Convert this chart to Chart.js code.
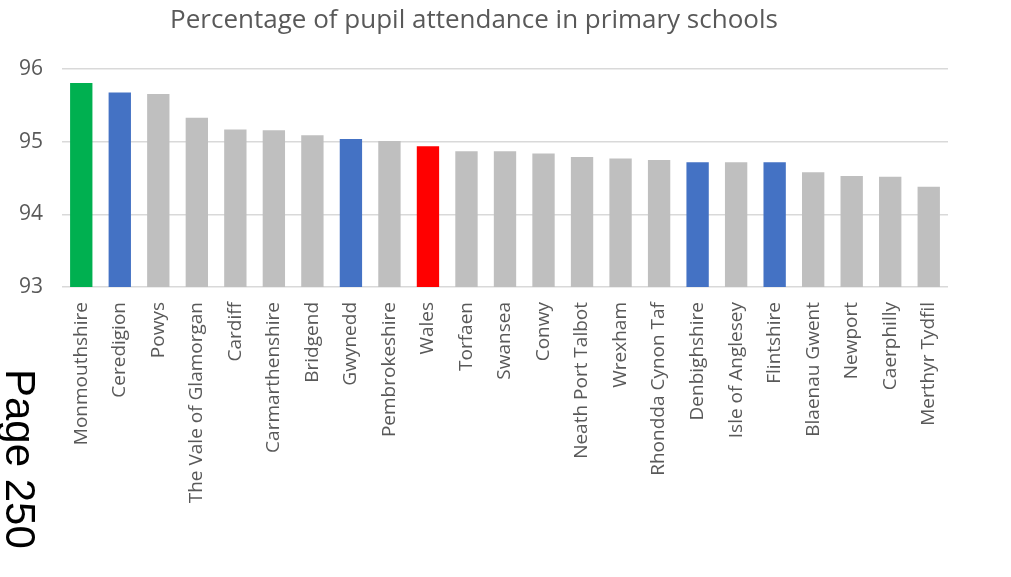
<!DOCTYPE html>
<html>
<head>
<meta charset="utf-8">
<script src="https://cdn.jsdelivr.net/npm/chart.js@4/dist/chart.umd.min.js"></script>
<style>
  html, body { margin: 0; padding: 0; background: #ffffff; overflow: hidden; }
  #wrap { position: relative; width: 1011px; height: 577px; }
  #page { position: absolute; left: 41px; top: 369px; transform-origin: top left; transform: rotate(90deg);
          font-family: "Liberation Sans", Arial, sans-serif; font-size: 42px; line-height: 42px; color: #000; white-space: nowrap; }
</style>
</head>
<body>
<div id="wrap">
  <canvas id="c" width="1011" height="577"></canvas>
  <div id="page">Page 250</div>
</div>
<script>
const categories = ["Monmouthshire","Ceredigion","Powys","The Vale of Glamorgan","Cardiff","Carmarthenshire","Bridgend","Gwynedd","Pembrokeshire","Wales","Torfaen","Swansea","Conwy","Neath Port Talbot","Wrexham","Rhondda Cynon Taf","Denbighshire","Isle of Anglesey","Flintshire","Blaenau Gwent","Newport","Caerphilly","Merthyr Tydfil"];
const attendance = [95.81,95.68,95.66,95.33,95.17,95.16,95.09,95.04,95.01,94.94,94.87,94.87,94.84,94.79,94.77,94.75,94.72,94.72,94.72,94.58,94.53,94.52,94.38];
const barColours = ["#00B050","#4472C4","#BFBFBF","#BFBFBF","#BFBFBF","#BFBFBF","#BFBFBF","#4472C4","#BFBFBF","#FF0000","#BFBFBF","#BFBFBF","#BFBFBF","#BFBFBF","#BFBFBF","#BFBFBF","#4472C4","#BFBFBF","#4472C4","#BFBFBF","#BFBFBF","#BFBFBF","#BFBFBF"];
const yTicks = [93, 94, 95, 96];
const title = "Percentage of pupil attendance in primary schools";

new Chart(document.getElementById('c'), {
  type: 'bar',
  data: {
    labels: categories,
    datasets: [{
      data: attendance,
      backgroundColor: barColours,
      borderWidth: 0,
      barPercentage: 0.58,
      categoryPercentage: 1.0
    }]
  },
  options: {
    responsive: false,
    animation: false,
    devicePixelRatio: 1,
    layout: { padding: { left: 0, right: 63, top: 0, bottom: 0 } },
    plugins: {
      legend: { display: false },
      tooltip: { enabled: false },
      title: {
        display: true,
        text: title,
        color: '#595959',
        font: { family: '"Open Sans", sans-serif', size: 26, weight: 'normal' },
        padding: { top: 5, bottom: 33 }
      }
    },
    scales: {
      x: {
        grid: { display: false },
        border: { display: false },
        ticks: {
          color: '#595959',
          font: { family: '"Open Sans", sans-serif', size: 19 },
          maxRotation: 90, minRotation: 90, autoSkip: false, padding: 7
        },
        afterFit: (s) => { s.height = 290; }
      },
      y: {
        min: 93, max: 96,
        afterBuildTicks: (s) => { s.ticks = yTicks.map(v => ({ value: v })); },
        grid: { color: '#D9D9D9', lineWidth: 1.5, drawTicks: false },
        border: { display: false },
        ticks: {
          color: '#595959',
          font: { family: '"Open Sans", sans-serif', size: 21 },
          padding: 19
        },
        afterFit: (s) => { s.width = 62; }
      }
    }
  }
});
</script>
</body>
</html>
